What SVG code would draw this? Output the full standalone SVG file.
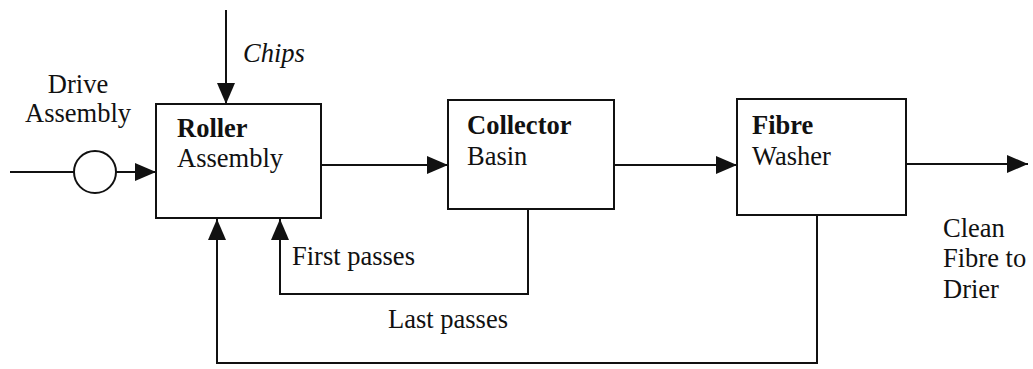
<svg xmlns="http://www.w3.org/2000/svg" width="1033" height="369" viewBox="0 0 1033 369">
  <style>
    .box { fill: #ffffff; stroke: #111111; stroke-width: 2; }
    .line { fill: none; stroke: #111111; stroke-width: 2; }
    .lbl { font-family: "Liberation Serif", "Times New Roman", serif; font-size: 26.5px; fill: #111111; }
    .b { font-weight: bold; }
    .it { font-style: italic; }
  </style>
  <defs>
    <marker id="arrow" markerUnits="userSpaceOnUse" markerWidth="22" markerHeight="18" refX="21" refY="9" orient="auto">
      <path d="M0,0 L21,9 L0,18 Z" fill="#111111"/>
    </marker>
  </defs>

  <!-- connectors -->
  <g id="connectors">
    <!-- chips feed -->
    <line class="line" x1="226" y1="10" x2="226" y2="104" marker-end="url(#arrow)"/>
    <!-- drive shaft through drive unit -->
    <line class="line" x1="10" y1="172" x2="74" y2="172"/>
    <line class="line" x1="116" y1="172" x2="156" y2="172" marker-end="url(#arrow)"/>
    <!-- main flow -->
    <line class="line" x1="321" y1="165" x2="448" y2="165" marker-end="url(#arrow)"/>
    <line class="line" x1="614" y1="165" x2="737" y2="165" marker-end="url(#arrow)"/>
    <line class="line" x1="906" y1="164" x2="1028" y2="164" marker-end="url(#arrow)"/>
    <!-- first passes recycle -->
    <polyline class="line" points="528,209 528,294 280,294 280,219" marker-end="url(#arrow)"/>
    <!-- last passes recycle -->
    <polyline class="line" points="817,215 817,363 217,363 217,219" marker-end="url(#arrow)"/>
  </g>

  <!-- drive unit -->
  <g id="drive">
    <circle class="box" cx="95" cy="172" r="21"/>
    <text class="lbl" x="78" y="93" text-anchor="middle">Drive</text>
    <text class="lbl" x="78" y="122" text-anchor="middle">Assembly</text>
  </g>

  <!-- chips label -->
  <g id="chips">
    <text class="lbl it" x="243" y="62">Chips</text>
  </g>

  <!-- roller assembly -->
  <g id="roller">
    <rect class="box" x="156" y="104" width="165" height="114"/>
    <text class="lbl b" x="177" y="137">Roller</text>
    <text class="lbl" x="177" y="167">Assembly</text>
  </g>

  <!-- collector basin -->
  <g id="collector">
    <rect class="box" x="448" y="100" width="166" height="109"/>
    <text class="lbl b" x="467" y="134">Collector</text>
    <text class="lbl" x="467" y="165">Basin</text>
  </g>

  <!-- fibre washer -->
  <g id="washer">
    <rect class="box" x="737" y="99" width="169" height="116"/>
    <text class="lbl b" x="752" y="134">Fibre</text>
    <text class="lbl" x="752" y="165">Washer</text>
  </g>

  <!-- product outlet label -->
  <g id="outlet">
    <text class="lbl" x="943" y="237">Clean</text>
    <text class="lbl" x="943" y="267">Fibre to</text>
    <text class="lbl" x="943" y="298">Drier</text>
  </g>

  <!-- recycle labels -->
  <g id="recycle-labels">
    <text class="lbl" x="292" y="265">First passes</text>
    <text class="lbl" x="388" y="328">Last passes</text>
  </g>
</svg>
